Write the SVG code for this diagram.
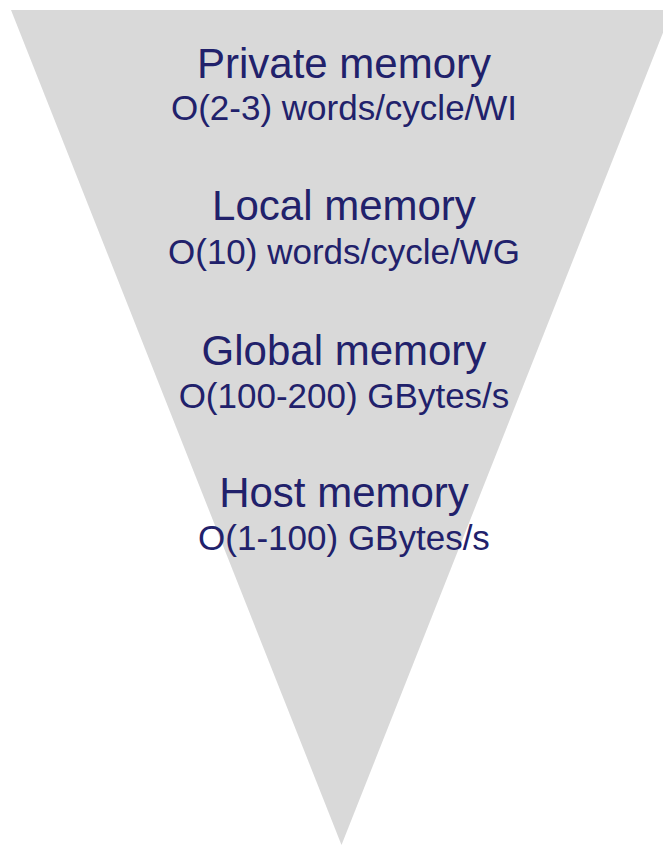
<svg xmlns="http://www.w3.org/2000/svg" width="663" height="845" viewBox="0 0 663 845">
  <style>
    .level { fill: #d9d9d9; }
    .title { font-family: "Liberation Sans", Arial, sans-serif; font-size: 42px; fill: #21216b; text-anchor: middle; }
    .rate { font-family: "Liberation Sans", Arial, sans-serif; font-size: 35px; fill: #21216b; text-anchor: middle; }
  </style>
  <rect width="663" height="845" fill="#ffffff"/>
  <!-- memory hierarchy funnel -->
  <polygon id="funnel" class="level" points="11,10 672,10 341.5,845"/>
  <g id="private-memory">
    <text class="title" x="344" y="78">Private memory</text>
    <text class="rate" x="344" y="120">O(2-3) words/cycle/WI</text>
  </g>
  <g id="local-memory">
    <text class="title" x="344" y="220">Local memory</text>
    <text class="rate" x="344" y="264">O(10) words/cycle/WG</text>
  </g>
  <g id="global-memory">
    <text class="title" x="344" y="365">Global memory</text>
    <text class="rate" x="344" y="408">O(100-200) GBytes/s</text>
  </g>
  <g id="host-memory">
    <text class="title" x="344" y="507">Host memory</text>
    <text class="rate" x="344" y="550">O(1-100) GBytes/s</text>
  </g>
  <g id="connectors"/>
</svg>
